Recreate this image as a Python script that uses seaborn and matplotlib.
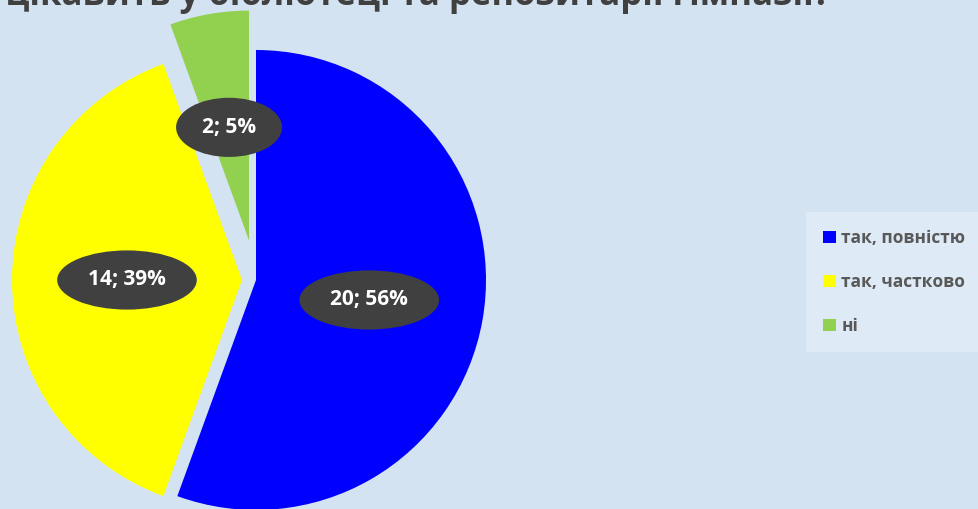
import numpy as np
import seaborn as sns
import matplotlib.pyplot as plt

# дані діаграми
categories = ["так, повністю", "так, частково", "ні"]
counts = [20, 14, 2]
percents = [56, 39, 5]
colors = ["#0000FF", "#FFFF00", "#92D050"]
title = "Чи знаходите Ви те, що Вас цікавить у бібліотеці та репозитарії гімназії?"

sns.set_theme(style="white")
plt.rcParams['font.family'] = ['Open Sans', 'DejaVu Sans']

W, H = 979, 509
fig = plt.figure(figsize=(W / 100, H / 100), dpi=100)
fig.patch.set_facecolor("#d3e3f2")
ax = fig.add_axes([0, 0, 1, 1])

labels_txt = iter([f"{c}; {p}%" for c, p in zip(counts, percents)])
# explode у pie задається в одиницях даних (тут пікселі)
wedges, texts, autotexts = ax.pie(
    counts, colors=colors, startangle=90, counterclock=False,
    explode=[0, 14, 40], radius=230, center=(256, 229),
    autopct=lambda p: next(labels_txt), pctdistance=0.5,
    wedgeprops=dict(linewidth=0),
    textprops=dict(color="white", fontweight="bold", fontsize=15),
    frame=True)
ax.set_xlim(0, W)
ax.set_ylim(0, H)
ax.set_aspect("equal")
ax.axis("off")

for t in autotexts:
    t.set_bbox(dict(boxstyle="ellipse,pad=0.5", fc="#404040", ec="none"))

leg = ax.legend(wedges, categories, loc="center left",
                bbox_to_anchor=(797 / W, 1 - 282 / H), frameon=True,
                fontsize=12.5, handlelength=0.75, handleheight=0.75,
                handletextpad=0.3, labelspacing=1.5, borderpad=1.0)
leg.get_frame().set_facecolor("white")
leg.get_frame().set_alpha(0.25)
leg.get_frame().set_edgecolor("none")
leg.get_frame().set_boxstyle("square,pad=0")
for txt in leg.get_texts():
    txt.set_color("#595959")
    txt.set_fontweight("bold")

fig.text(830 / W, 1 - 5 / H, title, ha="right", va="baseline",
         fontsize=25, fontweight="bold", color="#404040")

fig.savefig("out.png", dpi=100, facecolor=fig.get_facecolor())
